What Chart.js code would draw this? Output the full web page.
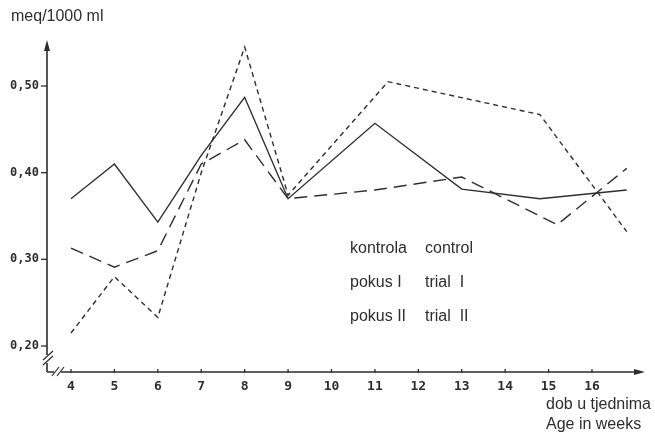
<!DOCTYPE html>
<html>
<head>
<meta charset="utf-8">
<title>meq/1000 ml</title>
<script src="https://cdn.jsdelivr.net/npm/chart.js@4"></script>
<style>
    body { margin: 0; background: #ffffff; }
    #wrap { width: 655px; height: 432px; }
</style>
</head>
<body>
<div id="wrap"><canvas id="chart" width="655" height="432"></canvas></div>
<script>
// weeks (x) and values (meq/1000 ml)
const weeksControl = [4, 5, 6, 7, 8, 9, 11, 13, 14.8, 16.8];
const valuesControl = [0.370, 0.410, 0.343, 0.420, 0.487, 0.370, 0.457, 0.381, 0.370, 0.380];

const weeksTrial1 = [4, 5, 6, 7, 8, 9, 11, 13, 15.2, 16.8];
const valuesTrial1 = [0.313, 0.291, 0.310, 0.410, 0.438, 0.370, 0.380, 0.395, 0.340, 0.405];

const weeksTrial2 = [4, 5, 6, 7, 8, 9, 11.3, 14.8, 16.8];
const valuesTrial2 = [0.215, 0.280, 0.233, 0.400, 0.545, 0.374, 0.505, 0.467, 0.332];

const xTicks = [4, 5, 6, 7, 8, 9, 10, 11, 12, 13, 14, 15, 16];
const yTicks = [0.20, 0.30, 0.40, 0.50];
const yTickLabels = ["0,20", "0,30", "0,40", "0,50"];

const legendRows = [
    ["kontrola", "control"],
    ["pokus I", "trial  I"],
    ["pokus II", "trial  II"]
];

const ink = "#2e2e2e";

function toPoints(xs, ys) {
    return xs.map((x, i) => ({ x: x, y: ys[i] }));
}

// hand drawn axes, ticks and texts
const sketchAxes = {
    id: "sketchAxes",
    afterDraw(chart) {
        const ctx = chart.ctx;
        const xs = chart.scales.x;
        const ys = chart.scales.y;
        const area = chart.chartArea;
        const x0 = area.left;
        const y0 = area.bottom;

        ctx.save();
        ctx.strokeStyle = ink;
        ctx.fillStyle = ink;
        ctx.lineWidth = 1.6;

        // y axis with a break near the bottom
        const yBreak = ys.getPixelForValue(0.185);
        ctx.beginPath();
        ctx.moveTo(x0, area.top + 2);
        ctx.lineTo(x0, yBreak - 4);
        ctx.moveTo(x0, yBreak + 4);
        ctx.lineTo(x0, y0);
        ctx.stroke();
        ctx.lineWidth = 1.2;
        ctx.beginPath();
        ctx.moveTo(x0 - 4, yBreak + 1); ctx.lineTo(x0 + 6, yBreak - 8);
        ctx.moveTo(x0 - 4, yBreak + 6); ctx.lineTo(x0 + 6, yBreak - 3);
        ctx.stroke();
        // arrow head (y)
        ctx.beginPath();
        ctx.moveTo(x0, area.top - 2);
        ctx.lineTo(x0 - 3, area.top + 9);
        ctx.lineTo(x0 + 3, area.top + 9);
        ctx.closePath();
        ctx.fill();

        // x axis with a break near the origin
        const xBreak = xs.getPixelForValue(3.7);
        ctx.lineWidth = 1.6;
        ctx.beginPath();
        ctx.moveTo(x0, y0);
        ctx.lineTo(xBreak - 4, y0);
        ctx.moveTo(xBreak + 3, y0);
        ctx.lineTo(area.right - 4, y0);
        ctx.stroke();
        ctx.lineWidth = 1.2;
        ctx.beginPath();
        ctx.moveTo(xBreak - 6, y0 + 4); ctx.lineTo(xBreak + 1, y0 - 5);
        ctx.moveTo(xBreak - 1, y0 + 4); ctx.lineTo(xBreak + 6, y0 - 5);
        ctx.stroke();
        // arrow head (x)
        ctx.beginPath();
        ctx.moveTo(area.right + 2, y0);
        ctx.lineTo(area.right - 9, y0 - 3);
        ctx.lineTo(area.right - 9, y0 + 3);
        ctx.closePath();
        ctx.fill();

        // y ticks + labels
        ctx.lineWidth = 1.3;
        ctx.font = "bold 12px 'DejaVu Sans Mono'";
        ctx.textAlign = "right";
        ctx.textBaseline = "middle";
        yTicks.forEach((v, i) => {
            const py = ys.getPixelForValue(v);
            ctx.beginPath();
            ctx.moveTo(x0 - 6, py);
            ctx.lineTo(x0, py);
            ctx.stroke();
            ctx.fillText(yTickLabels[i], x0 - 8, py);
        });

        // x ticks + labels
        ctx.font = "bold 13px 'DejaVu Sans Mono'";
        ctx.textAlign = "center";
        ctx.textBaseline = "top";
        xTicks.forEach(v => {
            const px = xs.getPixelForValue(v);
            ctx.beginPath();
            ctx.moveTo(px, y0 - 3);
            ctx.lineTo(px, y0 + 1);
            ctx.stroke();
            ctx.fillText(String(v), px, y0 + 8);
        });

        // titles
        ctx.font = "16px 'Liberation Sans', Arial, sans-serif";
        ctx.textAlign = "left";
        ctx.textBaseline = "middle";
        ctx.fillText("meq/1000 ml", 11, 17);
        ctx.fillText("dob u tjednima", 546, 405);
        ctx.fillText("Age in weeks", 546, 425);

        // legend (text only, as in the figure)
        legendRows.forEach((row, i) => {
            const py = 249 + i * 34;
            ctx.fillText(row[0], 350, py);
            ctx.fillText(row[1], 425, py);
        });

        ctx.restore();
    }
};

const lineStyle = {
    borderColor: ink,
    borderWidth: 1.4,
    pointRadius: 0,
    fill: false,
    tension: 0,
    clip: false
};

new Chart(document.getElementById("chart").getContext("2d"), {
    type: "line",
    data: {
        datasets: [
            Object.assign({ label: "kontrola", data: toPoints(weeksControl, valuesControl) }, lineStyle),
            Object.assign({ label: "pokus I", data: toPoints(weeksTrial1, valuesTrial1), borderDash: [13, 7] }, lineStyle),
            Object.assign({ label: "pokus II", data: toPoints(weeksTrial2, valuesTrial2), borderDash: [5, 4] }, lineStyle)
        ]
    },
    options: {
        responsive: false,
        animation: false,
        devicePixelRatio: 1,
        layout: { padding: { left: 47, right: 12, top: 42, bottom: 60 } },
        plugins: {
            legend: { display: false },
            tooltip: { enabled: false }
        },
        scales: {
            x: { type: "linear", min: 3.447, max: 17.175, display: false },
            y: { type: "linear", min: 0.170, max: 0.5508, display: false }
        }
    },
    plugins: [sketchAxes]
});
</script>
</body>
</html>
